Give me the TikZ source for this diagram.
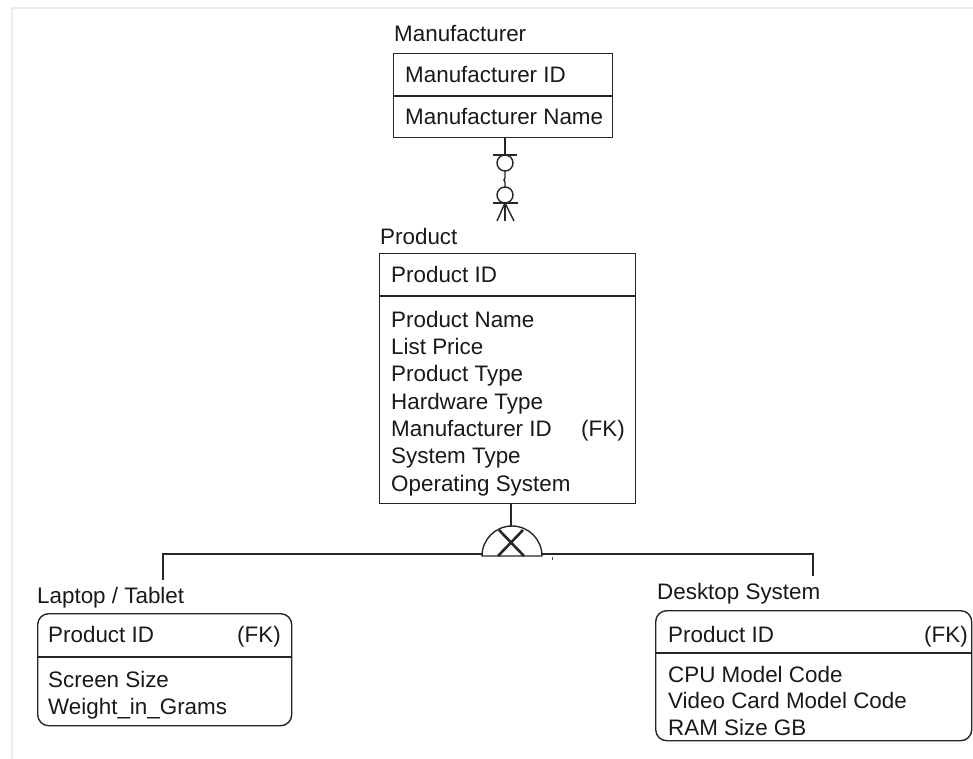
\documentclass[tikz,border=0pt]{standalone}
\usepackage{fontspec}
\setmainfont{Liberation Sans}
\begin{document}
\begin{tikzpicture}[x=1pt,y=-1pt,
  ent/.style={draw=black!85,line width=1.4pt,inner sep=0pt,anchor=north west},
  rent/.style={ent,rounded corners=11pt},
  txt/.style={anchor=base west,inner sep=0pt,font=\fontsize{22.4}{26}\selectfont,text=black!90},
  ln/.style={draw=black!85,line width=1.4pt},
  border/.style={draw=black!8,line width=1.2pt}]
\useasboundingbox (0,0) rectangle (973,759);
\draw[border] (12,759) -- (12,8) -- (973,8);

% Manufacturer
\node[txt] (mlab) at (394,42) {Manufacturer};
\node[ent,minimum width=219pt,minimum height=84pt] (mfr) at (393,53) {};
\draw[ln] (393,96) -- (612,96);
\node[txt] (m1) at (405,83) {Manufacturer ID};
\node[txt] (m2) at (405,125) {Manufacturer Name};

% Product
\node[txt] (plab) at (380,244) {Product};
\node[ent,minimum width=256pt,minimum height=250pt] (prod) at (379,253) {};
\draw[ln] (379,296) -- (635,296);
\node[txt] (p0) at (391,282) {Product ID};
\node[txt] (p1) at (391,327) {Product Name};
\node[txt] (p2) at (391,354.3) {List Price};
\node[txt] (p3) at (391,381.7) {Product Type};
\node[txt] (p4) at (391,409) {Hardware Type};
\node[txt] (p5) at (391,436.3) {Manufacturer ID};
\node[txt] (p5fk) at (581,436.3) {(FK)};
\node[txt] (p6) at (391,463.7) {System Type};
\node[txt] (p7) at (391,491) {Operating System};

% Relationship Manufacturer - Product
\coordinate (r0) at (505,137);
\coordinate (r1) at (505,221);
\draw[ln] (r0) -- (505,155);
\draw[ln] (493,155) -- (517,155);
\draw[ln] (505,163) circle (8);
\draw[ln] (505,171) -- (505,178) -- (504,180) -- (505,182) -- (505,187);
\draw[ln] (505,195) circle (8);
\draw[ln] (493,203) -- (518,203);
\draw[ln] (497,221) -- (505,203) -- (514,221);
\draw[ln] (505,203) -- (r1);

% Subtype symbol
\coordinate (st) at (511,527);
\draw[ln] (prod.south -| st) -- (st);
\draw[ln] (482,556) arc[start angle=180,end angle=360,radius=30] -- cycle;
\draw[line width=2.6pt,black!85] (499,530) -- (524,556);
\draw[line width=2.6pt,black!85] (523,530) -- (498,556);
\draw[ln] (482,554) -- (163,554) -- (163,580);
\draw[ln] (542,554) -- (813,554) -- (813,576);
\draw[black!70,line width=0.8pt] (552.5,557) -- (552.5,560);

% Laptop / Tablet
\node[txt] (llab) at (37,603) {Laptop / Tablet};
\node[rent,minimum width=254pt,minimum height=112pt] (lap) at (37,613) {};
\draw[ln] (37,657) -- (291,657);
\node[txt] (l0) at (48,642) {Product ID};
\node[txt] (l0fk) at (237,642) {(FK)};
\node[txt] (l1) at (48,687) {Screen Size};
\node[txt] (l2) at (48,714) {Weight\_in\_Grams};

% Desktop System
\node[txt] (dlab) at (657,599) {Desktop System};
\node[rent,minimum width=316pt,minimum height=130pt] (desk) at (655,610) {};
\draw[ln] (655,653) -- (971,653);
\node[txt] (d0) at (668,642) {Product ID};
\node[txt] (d0fk) at (924,642) {(FK)};
\node[txt] (d1) at (668,682) {CPU Model Code};
\node[txt] (d2) at (668,708.5) {Video Card Model Code};
\node[txt] (d3) at (668,735) {RAM Size GB};
\end{tikzpicture}
\end{document}
